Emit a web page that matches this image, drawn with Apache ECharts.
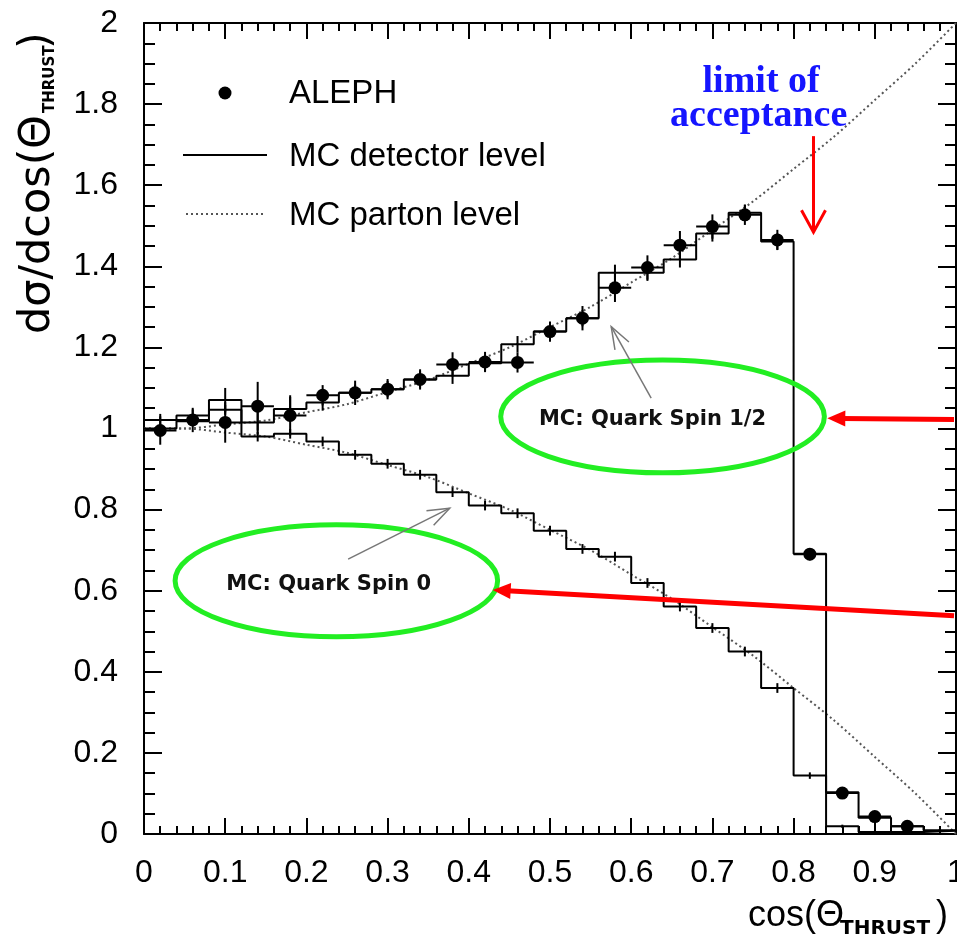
<!DOCTYPE html>
<html><head><meta charset="utf-8">
<script src="https://cdn.jsdelivr.net/npm/echarts@6/dist/echarts.min.js"></script>
<style>html,body{margin:0;padding:0;background:#fff;overflow:hidden}#c{width:957px;height:946px}</style>
</head><body><div id="c"></div>
<script>
// ---- data ----
const binEdges = [0,0.04,0.08,0.12,0.16,0.20,0.24,0.28,0.32,0.36,0.40,0.44,0.48,0.52,0.56,0.60,0.64,0.68,0.72,0.76,0.80,0.84,0.88,0.92,0.96,1.00];
const binCenters = [0.02,0.06,0.10,0.14,0.18,0.22,0.26,0.30,0.34,0.38,0.42,0.46,0.50,0.54,0.58,0.62,0.66,0.70,0.74,0.78,0.82,0.86,0.90,0.94,0.98];
const spinHalfMC = [1.021,1.032,1.070,1.015,1.048,1.064,1.088,1.097,1.121,1.130,1.161,1.208,1.239,1.272,1.384,1.384,1.417,1.481,1.532,1.461,0.691,0.103,0.040,0.019,0.009];
const spinHalfErr = [0.015,0.015,0.03,0.03,0.03,0.02,0.02,0.02,0.02,0.02,0.02,0.02,0.02,0.02,0.02,0.02,0.02,0.02,0.02,0.02,0.01,0.006,0.005,0.004,0.003];
const spinZeroMC = [1.000,1.018,1.046,0.980,0.987,0.968,0.935,0.913,0.886,0.843,0.810,0.791,0.748,0.703,0.684,0.619,0.561,0.508,0.450,0.360,0.144,0.019,0.005,0.005,0.008];
const spinZeroErr = [0.012,0.012,0.012,0.012,0.012,0.012,0.012,0.012,0.012,0.012,0.012,0.012,0.012,0.012,0.012,0.012,0.012,0.012,0.012,0.012,0.008,0.004,0.003,0.003,0.003];
const alephX = [0.02,0.06,0.10,0.14,0.18,0.22,0.26,0.30,0.34,0.38,0.42,0.46,0.50,0.54,0.58,0.62,0.66,0.70,0.74,0.78,0.82,0.86,0.90,0.94];
const alephY = [0.995,1.021,1.015,1.055,1.032,1.082,1.088,1.097,1.121,1.158,1.164,1.163,1.239,1.272,1.347,1.397,1.452,1.498,1.527,1.465,0.690,0.101,0.043,0.019];
const alephErr = [0.035,0.03,0.05,0.06,0.05,0.025,0.03,0.025,0.025,0.03,0.025,0.025,0.025,0.03,0.035,0.03,0.035,0.03,0.025,0.025,0.015,0.01,0.012,0.008];
const alephHalfWidth = 0.02;
const partonX = [0,0.05,0.10,0.15,0.20,0.25,0.30,0.35,0.40,0.45,0.50,0.55,0.60,0.65,0.70,0.75,0.80,0.85,0.90,0.95,1.00];
const partonHalf = [1.00,1.00,1.01,1.02,1.04,1.06,1.09,1.12,1.16,1.20,1.25,1.30,1.36,1.42,1.49,1.56,1.64,1.72,1.81,1.90,2.00];
const partonZero = [1.00,1.00,0.99,0.98,0.96,0.94,0.91,0.88,0.84,0.80,0.75,0.70,0.64,0.58,0.51,0.44,0.36,0.28,0.19,0.10,0.00];
const legendTexts = ['ALEPH','MC detector level','MC parton level'];
const spinHalfLabel = 'MC: Quark Spin 1/2';
const spinZeroLabel = 'MC: Quark Spin 0';
const limitLabel = ['limit of','acceptance'];

const FONT = '"Liberation Sans", Arial, Helvetica, sans-serif';
const DV = '"DejaVu Sans", sans-serif';
const chart = echarts.init(document.getElementById('c'), null, {renderer:'canvas', width:957, height:946});

function stepData(vals){
  const d = vals.map((v,i)=>[binEdges[i], v]);
  d.push([binEdges[binEdges.length-1], vals[vals.length-1]]);
  return d;
}
function errBars(xs, ys, es, hw){
  return {
    type:'custom', xAxisIndex:0, yAxisIndex:0, silent:true, z:5, clip:true,
    data: xs.map((x,i)=>[x, ys[i], es[i]]),
    renderItem: function(params, api){
      const x = api.value(0), y = api.value(1), e = api.value(2);
      const a = api.coord([x, y-e]), b = api.coord([x, y+e]);
      const ch = [{type:'line', shape:{x1:a[0],y1:a[1],x2:b[0],y2:b[1]}, style:{stroke:'#000', lineWidth:2}}];
      if (hw){
        const l = api.coord([x-hw, y]), r = api.coord([x+hw, y]);
        ch.push({type:'line', shape:{x1:l[0],y1:l[1],x2:r[0],y2:r[1]}, style:{stroke:'#000', lineWidth:2}});
      }
      return {type:'group', children: ch};
    }
  };
}
const labelFmt = v => String(Math.round(v*10)/10);
function xAx(pos, showLabel){
  return {type:'value', position:pos, min:0, max:1, interval:0.1,
    axisLine:{show:true, onZero:false, lineStyle:{color:'#000', width:2}},
    axisTick:{show:true, inside:true, length:16, lineStyle:{color:'#000', width:2}},
    minorTick:{show:true, splitNumber:5, length:8, lineStyle:{color:'#000', width:2}},
    splitLine:{show:false}, minorSplitLine:{show:false},
    axisLabel:{show:showLabel, formatter:labelFmt, fontFamily:FONT, fontSize:32, color:'#000', margin:23, showMaxLabel:true, showMinLabel:true, hideOverlap:false}
  };
}
function yAx(pos, showLabel){
  return {type:'value', position:pos, min:0, max:2, interval:0.2,
    axisLine:{show:true, onZero:false, lineStyle:{color:'#000', width:2}},
    axisTick:{show:true, inside:true, length:18, lineStyle:{color:'#000', width:2}},
    minorTick:{show:true, splitNumber:4, length:11, lineStyle:{color:'#000', width:2}},
    splitLine:{show:false}, minorSplitLine:{show:false},
    axisLabel:{show:showLabel, formatter:labelFmt, fontFamily:FONT, fontSize:32, color:'#000', margin:26, showMaxLabel:true, showMinLabel:true, hideOverlap:false}
  };
}
const dotted = {color:'#555', width:2, type:[2,3]};
chart.setOption({
  animation:false,
  backgroundColor:'#fff',
  grid:{left:144, right:1, top:23, bottom:112, containLabel:false, outerBoundsMode:'none'},
  xAxis:[xAx('bottom', true), xAx('top', false)],
  yAxis:[yAx('left', true), yAx('right', false)],
  series:[
    {type:'line', name:'spinHalfParton', data: partonX.map((x,i)=>[x, partonHalf[i]]), smooth:0.3, showSymbol:false, lineStyle:dotted, z:2},
    {type:'line', name:'spinZeroParton', data: partonX.map((x,i)=>[x, partonZero[i]]), smooth:0.3, showSymbol:false, lineStyle:dotted, z:2},
    {type:'line', name:'spinHalfMC', data: stepData(spinHalfMC), step:'end', showSymbol:false, lineStyle:{color:'#000', width:2}, z:3},
    {type:'line', name:'spinZeroMC', data: stepData(spinZeroMC), step:'end', showSymbol:false, lineStyle:{color:'#000', width:2}, z:3},
    errBars(binCenters, spinHalfMC, spinHalfErr, 0),
    errBars(binCenters, spinZeroMC, spinZeroErr, 0),
    errBars(alephX, alephY, alephErr, alephHalfWidth),
    {type:'scatter', name:'ALEPH', data: alephX.map((x,i)=>[x, alephY[i]]), symbol:'circle', symbolSize:13, itemStyle:{color:'#000', opacity:1}, z:6}
  ]
});

// ---- annotations (positions given in data coordinates) ----
const P = (x,y) => chart.convertToPixel({seriesIndex:0}, [x,y]);
const RED = '#ff0000', GREEN = '#22ee22', GRAY = '#777';
const gfx = [];
function line(a,b,stroke,w,extra){ gfx.push(Object.assign({type:'line', shape:{x1:a[0],y1:a[1],x2:b[0],y2:b[1]}, style:{stroke:stroke, lineWidth:w}, z:20}, extra||{})); }
function arrowOpen(from,to,stroke,w,L,W){
  const a=P(from[0],from[1]), b=P(to[0],to[1]);
  line(a,b,stroke,w);
  const dx=b[0]-a[0], dy=b[1]-a[1], n=Math.hypot(dx,dy), ux=dx/n, uy=dy/n;
  gfx.push({type:'polyline', shape:{points:[[b[0]-L*ux+W*uy, b[1]-L*uy-W*ux],[b[0],b[1]],[b[0]-L*ux-W*uy, b[1]-L*uy+W*ux]]}, style:{stroke:stroke, lineWidth:w, fill:null}, z:20});
}
function arrowFilled(from,to,color,w,L,W){
  const a=P(from[0],from[1]), b=P(to[0],to[1]);
  const dx=b[0]-a[0], dy=b[1]-a[1], n=Math.hypot(dx,dy), ux=dx/n, uy=dy/n;
  line([a[0]+2*ux, a[1]+2*uy],[b[0]-L*ux*0.8, b[1]-L*uy*0.8],color,w,{});
  gfx.push({type:'polygon', shape:{points:[[b[0],b[1]],[b[0]-L*ux+W*uy, b[1]-L*uy-W*ux],[b[0]-L*ux-W*uy, b[1]-L*uy+W*ux]]}, style:{fill:color}, z:21});
}
function ellipse(cx,cy,rx,ry){
  const c=P(cx,cy), e=P(cx+rx, cy+ry);
  gfx.push({type:'ellipse', shape:{cx:c[0], cy:c[1], rx:Math.abs(e[0]-c[0]), ry:Math.abs(e[1]-c[1])}, style:{stroke:GREEN, lineWidth:5, fill:null}, z:15});
}
function tstyle(str, font, fill, align){
  return {text:str, font:font, fill:fill, align:align||'left', textAlign:align||'left', verticalAlign:'middle', textVerticalAlign:'middle'};
}
function text(str, x, y, font, fill, align, z){
  gfx.push({type:'text', x:x, y:y, z:z||25, style:tstyle(str, font, fill, align)});
}

ellipse(0.6386, 1.0297, 0.1993, 0.139);
ellipse(0.2369, 0.6244, 0.1986, 0.138);
let p = P(0.6262, 1.022); text(spinHalfLabel, p[0], p[1], 'bold 21px '+DV, '#111', 'center');
p = P(0.2274, 0.616); text(spinZeroLabel, p[0], p[1], 'bold 21px '+DV, '#111', 'center');
arrowOpen([0.6246,1.0747],[0.5754,1.251], GRAY, 1.5, 22, 8);
arrowOpen([0.2514,0.678],[0.3765,0.8036], GRAY, 1.5, 22, 8);
arrowOpen([0.8245,1.721],[0.8245,1.484], RED, 3, 22, 12);
arrowFilled([1.0,1.022],[0.8415,1.025], RED, 5, 18, 8);
arrowFilled([1.0,0.538],[0.4294,0.602], RED, 5, 18, 8);
p = P(0.760, 1.853); text(limitLabel[0], p[0], p[1], 'bold 38px "Liberation Serif", "Times New Roman", serif', '#1515ff', 'center');
p = P(0.757, 1.770); text(limitLabel[1], p[0], p[1], 'bold 38px "Liberation Serif", "Times New Roman", serif', '#1515ff', 'center');

// legend
gfx.push({type:'circle', shape:{cx:225, cy:93, r:6.5}, style:{fill:'#000'}, z:25});
gfx.push({type:'line', shape:{x1:183,y1:155,x2:267,y2:155}, style:{stroke:'#000', lineWidth:2}, z:25});
gfx.push({type:'line', shape:{x1:186,y1:214,x2:264,y2:214}, style:{stroke:'#555', lineWidth:2, lineDash:[2,3]}, z:25});
text(legendTexts[0], 289, 94, '33px '+FONT, '#000');
text(legendTexts[1], 289, 157, '33px '+FONT, '#000');
text(legendTexts[2], 289, 216, '33px '+FONT, '#000');

// x axis title
text('cos(Θ', 748, 916, '36px '+FONT, '#000');
text('THRUST', 840, 929, 'bold 20px '+DV, '#000');
text(')', 936, 916, '36px '+FONT, '#000');

// y axis title (rotated)
gfx.push({type:'group', x:38, y:334, rotation:Math.PI/2, z:25, children:[
  {type:'text', x:0, y:0, style:tstyle('dσ/dcos(', '43px '+DV, '#000')},
  {type:'text', x:185, y:0, style:tstyle('Θ', '43px '+DV, '#000')},
  {type:'text', x:221, y:12, style:tstyle('THRUST', 'bold 15px '+DV, '#000')},
  {type:'text', x:285, y:0, style:tstyle(')', '43px '+DV, '#000')}
]});

chart.setOption({graphic:{elements:gfx}});
</script></body></html>
